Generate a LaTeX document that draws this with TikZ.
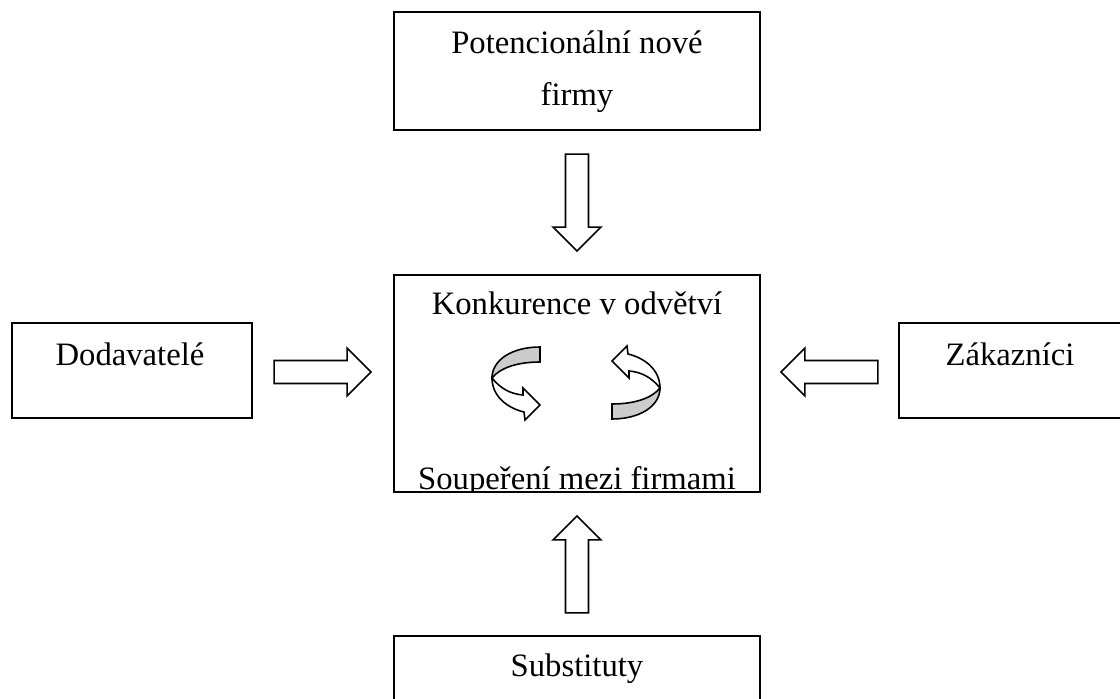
\documentclass[tikz,border=0pt]{standalone}
\usepackage{fontspec}
\setmainfont{Liberation Serif}
\usetikzlibrary{calc}
\tikzset{
	box/.style={draw, line width=1.1pt, rectangle, inner sep=0pt},
	txt/.style={anchor=base, inner sep=0pt},
	blockarrow/.pic={
		\draw[line width=.9pt, fill=white] (-97,-11.5)--(-24,-11.5)--(-24,-24)--(0,0)--(-24,24)--(-24,11.5)--(-97,11.5)--cycle;
	},
	swirl/.pic={
		\draw[line width=.9pt, fill=black!20] (48,-31) .. controls (20,-31) and (0,-18) .. (0,0) .. controls (8,-10) and (25,-16) .. (48,-16) -- cycle;
		\draw[line width=.9pt, fill=white] (0,0) .. controls (8,10) and (18,16) .. (31,17) -- (31,10) -- (48,27) -- (33,42) -- (32,34) .. controls (15,30) and (0,18) .. (0,0) -- cycle;
	}
}
\begin{document}
\begin{tikzpicture}[x=0.02cm, y=-0.02cm, font=\fontsize{18.6}{22}\selectfont]
		\useasboundingbox (0,0) rectangle (1120,699);
		% boxes
		\node[box, minimum width=7.32cm, minimum height=2.36cm] (pot) at (577,71) {};
		\node[box, minimum width=7.32cm, minimum height=4.34cm] (kon) at (577,383.5) {};
		\node[box, minimum width=4.8cm, minimum height=1.9cm] (dod) at (132,370.5) {};
		\node[box, minimum width=4.82cm, minimum height=1.9cm] (zak) at (1019.5,370.5) {};
		\node[box, minimum width=7.32cm, minimum height=2.0cm] (sub) at (577,686) {};
		% texts
		\node[txt] (potA) at (577,54) {Potencionální nové};
		\node[txt] (potB) at (577,106) {firmy};
		\node[txt] (konA) at (577,315) {Konkurence v odvětví};
		\begin{scope}
		\clip (kon.north west) rectangle (kon.south east);
		\node[txt] (konB) at (577,489) {Soupeření mezi firmami};
		\end{scope}
		\node[txt] (dodT) at (130,366) {Dodavatelé};
		\node[txt] (zakT) at (1010,366) {Zákazníci};
		\node[txt] (subT) at (577,676) {Substituty};
		% block arrows
		\foreach \p/\r in {{0,-23}/-90, {0,23}/90}
		\pic[rotate=\r] at ($(kon.\ifnum\r<0 north\else south\fi)+(\p)$) {blockarrow};
		\pic at ($(kon.west)+(-22,-11.5)$) {blockarrow};
		\pic[rotate=180] at ($(kon.east)+(20,-11.5)$) {blockarrow};
		% rivalry
		\pic at ($(kon.center)+(-85,-5.5)$) {swirl};
		\pic[rotate=180] at ($(kon.center)+(83,4.5)$) {swirl};
\end{tikzpicture}
\end{document}
